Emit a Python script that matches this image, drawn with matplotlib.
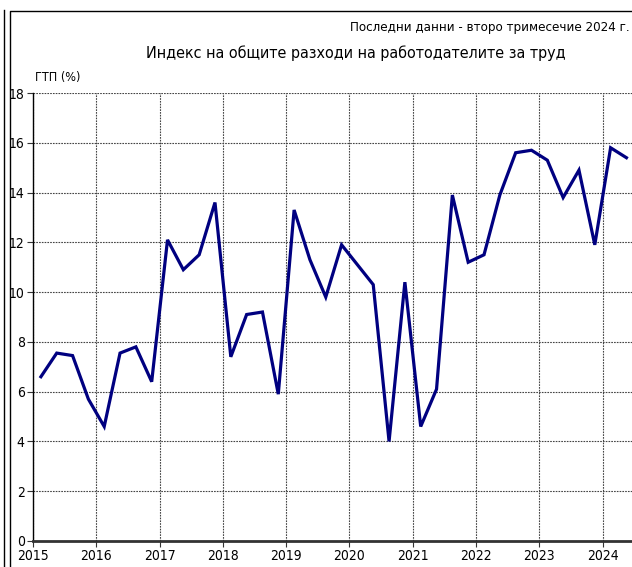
import numpy as np
import matplotlib
matplotlib.use('Agg')
import matplotlib.pyplot as plt
from matplotlib.lines import Line2D

plt.rcParams['font.family'] = ['DejaVu Sans']
plt.rcParams['font.stretch'] = 'condensed'

# Quarterly data, 2015 Q1 - 2024 Q2
years = list(range(2015, 2025))
values = [6.6, 7.55, 7.45, 5.7,
          4.6, 7.55, 7.8, 6.4,
          12.1, 10.9, 11.5, 13.6,
          7.4, 9.1, 9.2, 5.9,
          13.3, 11.3, 9.8, 11.9,
          11.1, 10.3, 4.0, 10.4,
          4.6, 6.1, 13.9, 11.2,
          11.5, 13.9, 15.6, 15.7,
          15.3, 13.8, 14.9, 11.9,
          15.8, 15.4]
y_ticks = list(range(0, 19, 2))

title = 'Индекс на общите разходи на работодателите за труд'
subtitle = 'Последни данни - второ тримесечие 2024 г.'
y_label = 'ГТП (%)'

# quarter midpoints
x = 2015 + (np.arange(len(values)) + 0.5) / 4

fig = plt.figure(figsize=(6.32, 5.67), dpi=100)
ax = fig.add_axes([33 / 632, 26 / 567, 1 - 33 / 632, 448 / 567])

ax.plot(x, values, color='#000080', linewidth=2.3, solid_joinstyle='miter')

ax.set_xlim(2015, 2015 + (632 - 33) / 63.3)
ax.set_ylim(0, 18)
ax.set_xticks(years)
ax.set_xticklabels([str(y) for y in years])
ax.set_yticks(y_ticks)
ax.tick_params(labelsize=10, length=4, width=0.8, color='#333333', pad=2)
ax.grid(True, linestyle=(0, (1.5, 1)), color='#444444', linewidth=0.8)
ax.set_axisbelow(True)

for s in ['top', 'right']:
    ax.spines[s].set_visible(False)
ax.spines['left'].set_color('black')
ax.spines['left'].set_linewidth(1.0)
ax.spines['bottom'].set_color('#333333')
ax.spines['bottom'].set_linewidth(2.0)

fig.text(35 / 632, 1 - 78 / 567, y_label, fontsize=9, va='center', ha='left')
fig.text(356 / 632, 1 - 53 / 567, title, fontsize=11.5, ha='center', va='center')
fig.text(630 / 632, 1 - 27 / 567, subtitle, fontsize=9.5, ha='right', va='center')

# outer frame lines
fig.add_artist(Line2D([3.5 / 632, 3.5 / 632], [0, 1 - 10 / 567], color='black', lw=1))
fig.add_artist(Line2D([10.5 / 632, 10.5 / 632, 1], [0, 1 - 10.5 / 567, 1 - 10.5 / 567],
                      color='black', lw=1))

fig.savefig('out.png', dpi=100)
